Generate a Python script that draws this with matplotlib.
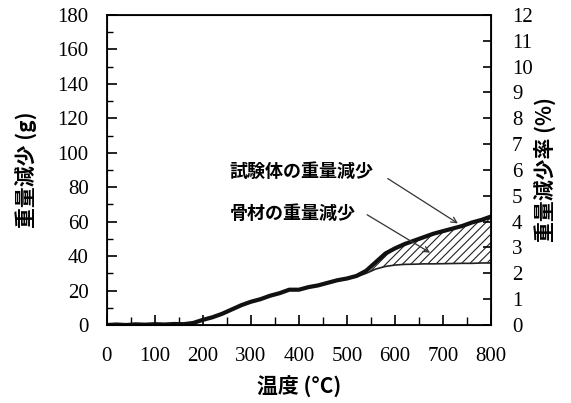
import numpy as np
import matplotlib.pyplot as plt
from matplotlib.ticker import MultipleLocator

plt.rcParams['hatch.linewidth'] = 0.8

# temperature (deg C) and weight loss (g)
temp = [0, 20, 40, 60, 80, 100, 120, 140, 160, 180, 200, 220, 240, 260, 280,
        300, 320, 340, 360, 380, 400, 420, 440, 460, 480, 500, 520, 540, 560,
        580, 600, 620, 640, 660, 680, 700, 720, 740, 760, 780, 800]
specimen = [0.0, 0.3, 0.0, 0.4, 0.2, 0.5, 0.3, 0.6, 0.5, 1.2, 3.0, 4.5, 6.5,
            9.0, 11.5, 13.5, 15.0, 17.0, 18.5, 20.5, 20.5, 22.0, 23.0, 24.5,
            26.0, 27.0, 28.5, 31.5, 36.5, 41.5, 44.5, 47.0, 49.0, 51.0, 53.0,
            54.5, 56.0, 57.5, 59.5, 61.0, 63.0]
aggregate = [0.0, 0.3, 0.0, 0.4, 0.2, 0.5, 0.3, 0.6, 0.5, 1.2, 3.0, 4.5, 6.5,
             9.0, 11.5, 13.5, 15.0, 17.0, 18.5, 20.5, 20.5, 22.0, 23.0, 24.5,
             26.0, 27.0, 28.0, 30.0, 32.5, 34.0, 34.8, 35.2, 35.3, 35.5, 35.5,
             35.6, 35.7, 35.8, 35.8, 36.0, 36.0]

jp = ['Noto Sans CJK JP', 'DejaVu Sans']
serif = 'Liberation Serif'

fig = plt.figure(figsize=(5.71, 4.03), dpi=100)
ax1 = fig.add_axes([0.187, 0.1935, 0.673, 0.7695])

ax1.fill_between(temp, aggregate, specimen, where=np.array(specimen) > np.array(aggregate),
                 facecolor='none', edgecolor='#222222', hatch='////', linewidth=0)
ax1.plot(temp, aggregate, color='#222222', lw=1.2)
ax1.plot(temp, specimen, color='#111111', lw=3.0)

ax1.set_xlim(0, 800)
ax1.set_ylim(0, 180)
ax1.xaxis.set_major_locator(MultipleLocator(100))
ax1.xaxis.set_minor_locator(MultipleLocator(50))
ax1.yaxis.set_major_locator(MultipleLocator(20))
ax1.yaxis.set_minor_locator(MultipleLocator(10))
ax1.tick_params(axis='both', which='major', direction='in', length=7, width=1.2,
                labelsize=15)
ax1.tick_params(axis='y', which='major', pad=13)
ax1.tick_params(axis='x', which='major', pad=16)
ax1.tick_params(axis='both', which='minor', direction='in', length=4, width=1.0)
ax1.tick_params(axis='x', which='minor', length=6)
for tl in ax1.get_xticklabels() + ax1.get_yticklabels():
    tl.set_fontfamily(serif)
for sp in ax1.spines.values():
    sp.set_linewidth(1.3)

ax1.set_xlabel('温度 (°C)', family=jp, fontsize=15, fontweight='bold', labelpad=7)
ax1.set_ylabel('重量減少 (g)', family=jp, fontsize=15, fontweight='bold', labelpad=15)

# right axis in percent of specimen weight
ax2 = ax1.twinx()
ax2.set_ylim(0, 12)
ax2.yaxis.set_major_locator(MultipleLocator(1))
ax2.tick_params(axis='y', which='major', direction='in', length=6, width=1.2,
                labelsize=15, pad=15)
for tl in ax2.get_yticklabels():
    tl.set_fontfamily(serif)
ax2.set_ylabel('重量減少率 (%)', family=jp, fontsize=15, fontweight='bold',
               rotation=90, labelpad=1)

# labels with leader arrows
ax1.text(256, 89, '試験体の重量減少', family=jp, fontsize=13,
         fontweight='bold', ha='left', va='center')
ax1.annotate('', xy=(731, 59), xytext=(585, 85),
             arrowprops=dict(arrowstyle='->', color='#333333', lw=0.9,
                             shrinkA=0, shrinkB=0))
ax1.text(256, 65, '骨材の重量減少', family=jp, fontsize=13,
         fontweight='bold', ha='left', va='center')
ax1.annotate('', xy=(673, 42), xytext=(542, 64),
             arrowprops=dict(arrowstyle='->', color='#333333', lw=0.9,
                             shrinkA=0, shrinkB=0))

fig.savefig('out.png', dpi=100)
